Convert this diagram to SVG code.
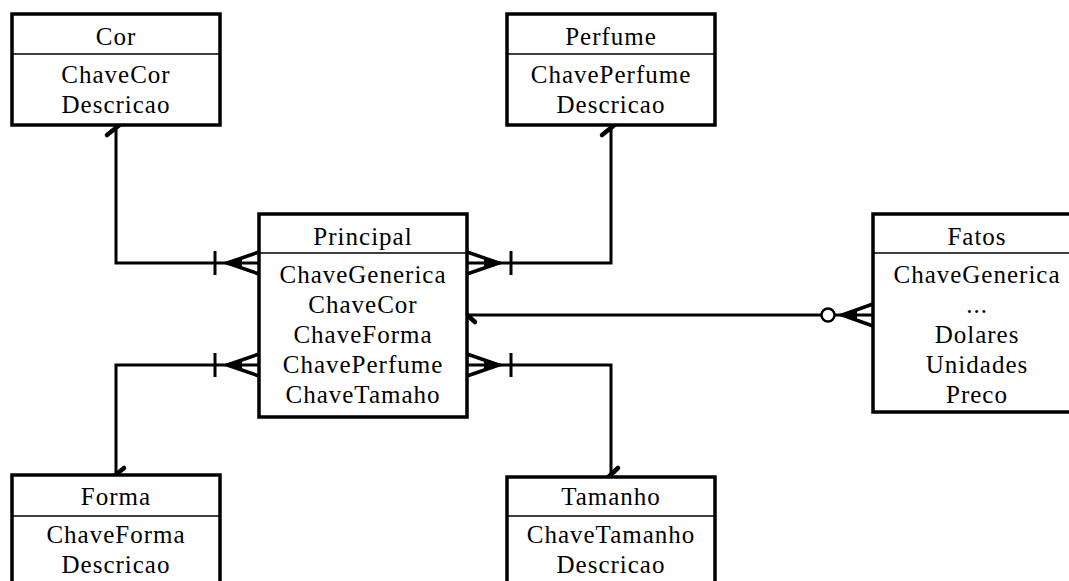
<svg xmlns="http://www.w3.org/2000/svg" width="1069" height="581" viewBox="0 0 1069 581">
<style>
.box{fill:#fff;stroke:#000;stroke-width:3.5}
.div{stroke:#000;stroke-width:1.5}
.t{font-family:"Liberation Serif","Times New Roman",serif;font-size:25px;letter-spacing:1px;text-anchor:middle;fill:#000}
.c{fill:none;stroke:#000;stroke-width:3;stroke-linecap:butt}
.cf{fill:none;stroke:#000;stroke-width:3.5;stroke-linejoin:miter}
.w{fill:#000;stroke:none}
.h{fill:none;stroke:#000;stroke-width:4.5;stroke-linecap:round}
</style>
<rect width="1069" height="581" fill="#fff"/>
<g id="connectors">
  <!-- Cor -->
  <polyline class="c" points="116,125 116,263 259,263"/>
  <line class="h" x1="107" y1="135" x2="122" y2="123"/>
  <line class="c" x1="215" y1="251" x2="215" y2="275"/>
  <polyline class="cf" points="259,252 227,263 259,274"/>
  <polygon class="w" points="226,263 242,257 242,269"/>
  <!-- Perfume -->
  <polyline class="c" points="611,125 611,263 467,263"/>
  <line class="h" x1="602" y1="135" x2="617" y2="123"/>
  <line class="c" x1="511" y1="251" x2="511" y2="275"/>
  <polyline class="cf" points="467,252 499,263 467,274"/>
  <polygon class="w" points="500,263 484,257 484,269"/>
  <!-- Forma -->
  <polyline class="c" points="259,365 116,365 116,475"/>
  <line class="h" x1="107" y1="482" x2="124" y2="468"/>
  <line class="c" x1="215" y1="353" x2="215" y2="377"/>
  <polyline class="cf" points="259,354 227,365 259,376"/>
  <polygon class="w" points="226,365 242,359 242,371"/>
  <!-- Tamanho -->
  <polyline class="c" points="467,365 611,365 611,477"/>
  <line class="h" x1="602" y1="483" x2="618" y2="468"/>
  <line class="c" x1="511" y1="353" x2="511" y2="377"/>
  <polyline class="cf" points="467,354 499,365 467,376"/>
  <polygon class="w" points="500,365 484,359 484,371"/>
  <!-- Fatos -->
  <line class="c" x1="467" y1="315" x2="822" y2="315"/>
  <line class="h" x1="459" y1="308" x2="475" y2="322"/>
  <line class="c" x1="834" y1="315" x2="873" y2="315"/>
  <polyline class="cf" points="873,304 842,315 873,326"/>
  <polygon class="w" points="841,315 857,309 857,321"/>
  <circle cx="828" cy="315" r="6.5" fill="#fff" stroke="#000" stroke-width="2.5"/>
</g>
<g id="Cor">
  <rect class="box" x="12" y="14" width="208" height="111"/>
  <line class="div" x1="12" y1="54" x2="220" y2="54"/>
  <text class="t" x="116" y="45">Cor</text>
  <text class="t" x="116" y="83">ChaveCor</text>
  <text class="t" x="116" y="113">Descricao</text>
</g>
<g id="Perfume">
  <rect class="box" x="507" y="14" width="208" height="111"/>
  <line class="div" x1="507" y1="54" x2="715" y2="54"/>
  <text class="t" x="611" y="45">Perfume</text>
  <text class="t" x="611" y="83">ChavePerfume</text>
  <text class="t" x="611" y="113">Descricao</text>
</g>
<g id="Principal">
  <rect class="box" x="259" y="214" width="208" height="203"/>
  <line class="div" x1="259" y1="253" x2="467" y2="253"/>
  <text class="t" x="363" y="245">Principal</text>
  <text class="t" x="363" y="283">ChaveGenerica</text>
  <text class="t" x="363" y="313">ChaveCor</text>
  <text class="t" x="363" y="343">ChaveForma</text>
  <text class="t" x="363" y="373">ChavePerfume</text>
  <text class="t" x="363" y="403">ChaveTamaho</text>
</g>
<g id="Fatos">
  <rect class="box" x="873" y="214" width="208" height="198"/>
  <line class="div" x1="873" y1="253" x2="1081" y2="253"/>
  <text class="t" x="977" y="245">Fatos</text>
  <text class="t" x="977" y="283">ChaveGenerica</text>
  <text class="t" x="977" y="313">...</text>
  <text class="t" x="977" y="343">Dolares</text>
  <text class="t" x="977" y="373">Unidades</text>
  <text class="t" x="977" y="403">Preco</text>
</g>
<g id="Forma">
  <rect class="box" x="12" y="475" width="208" height="120"/>
  <line class="div" x1="12" y1="516" x2="220" y2="516"/>
  <text class="t" x="116" y="505">Forma</text>
  <text class="t" x="116" y="543">ChaveForma</text>
  <text class="t" x="116" y="573">Descricao</text>
</g>
<g id="Tamanho">
  <rect class="box" x="507" y="477" width="208" height="120"/>
  <line class="div" x1="507" y1="516" x2="715" y2="516"/>
  <text class="t" x="611" y="505">Tamanho</text>
  <text class="t" x="611" y="543">ChaveTamanho</text>
  <text class="t" x="611" y="573">Descricao</text>
</g>
</svg>
